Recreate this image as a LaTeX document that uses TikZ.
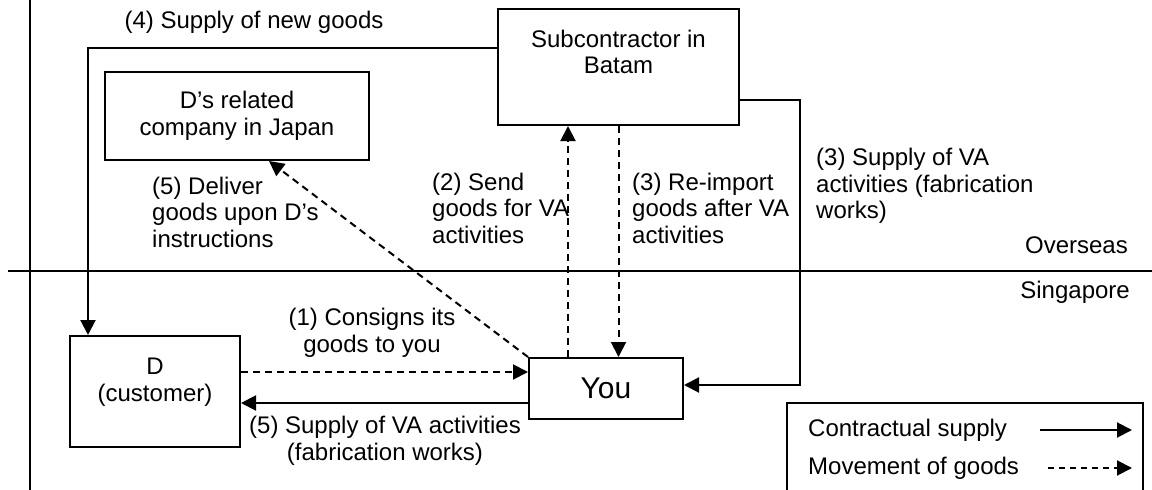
\documentclass[tikz,border=0pt]{standalone}
\usepackage{fontspec}
\setmainfont{Liberation Sans}
\usetikzlibrary{arrows.meta}
\tikzset{
  txt/.style={font=\fontsize{24pt}{26.5pt}\selectfont, inner sep=0pt},
  boxn/.style={draw, line width=2pt, inner sep=0pt},
  supply/.style={line width=2pt, -{Triangle[length=15pt,width=15pt]}},
  goods/.style={line width=2pt, dash pattern=on 7pt off 5pt, -{Triangle[length=15pt,width=15pt]}},
  frame/.style={line width=2pt}
}
\begin{document}
\begin{tikzpicture}[x=1pt,y=-1pt]
\useasboundingbox (0,0) rectangle (1152,490);
\clip (0,0) rectangle (1152,490);
% frame lines
\coordinate (vt) at (30,0);
\coordinate (vb) at (30,490);
\coordinate (hl) at (8,271);
\coordinate (hr) at (1152,271);
\draw[frame] (vt) -- (vb);
\draw[frame] (hl) -- (hr);
% boxes
\node[boxn, minimum width=264pt, minimum height=88pt] (japan) at (237,116) {};
\node[txt, align=center] (japantxt) at (237,116) {D’s related\\company in Japan};
\node[boxn, minimum width=241pt, minimum height=116pt] (sub) at (618.5,67) {};
\node[txt, align=center] (subtxt) at (618.5,52) {Subcontractor in\\Batam};
\node[boxn, minimum width=170pt, minimum height=111pt] (d) at (155,391.5) {};
\node[txt, align=center] (dtxt) at (155,382) {D\\(customer)};
\node[boxn, minimum width=154pt, minimum height=61pt] (you) at (606,388.5) {};
\node[txt, font=\fontsize{30pt}{32pt}\selectfont] (youtxt) at (606,388.5) {You};
% connectors
\coordinate (c3) at (800,100);
\draw[supply] ([yshift=19pt]sub.west) -| ([xshift=-67pt]d.north);
\draw[supply] ([yshift=-33pt]sub.east) -- (c3) |- ([yshift=3.5pt]you.east);
\draw[goods] ([xshift=-38pt]you.north) -- ([xshift=-38pt]you.north |- sub.south);
\draw[goods] (sub.south) -- (sub.south |- you.north);
\draw[goods] ([yshift=19.5pt]d.east) -- ([yshift=19.5pt]d.east -| you.west);
\draw[supply] ([yshift=-11.5pt]d.east -| you.west) -- ([yshift=-11.5pt]d.east);
\draw[goods] (you.north west) -- ([xshift=165pt]japan.south west);
% labels
\node[txt] (l4) at (254,22) {(4) Supply of new goods};
\node[txt, align=left, anchor=west] (l5d) at (152,212) {(5) Deliver\\goods upon D’s\\instructions};
\node[txt, align=left, anchor=west] (l2) at (432,208) {(2) Send\\goods for VA\\activities};
\node[txt, align=left, anchor=west] (l3r) at (632,208) {(3) Re-import\\goods after VA\\activities};
\node[txt, align=left, anchor=west] (l3s) at (816,186) {(3) Supply of VA\\activities (fabrication\\works)};
\node[txt, anchor=east] (over) at (1128,245) {Overseas};
\node[txt, anchor=east] (sing) at (1130,292) {Singapore};
\node[txt, align=center] (l1) at (372,333) {(1) Consigns its\\goods to you};
\node[txt, align=center] (l5s) at (385,441) {(5) Supply of VA activities\\(fabrication works)};
% legend
\node[boxn, minimum width=356pt, minimum height=117pt] (legend) at (965,461.5) {};
\node[txt, anchor=west] (lg1) at (808,430) {Contractual supply};
\node[txt, anchor=west] (lg2) at (808,468) {Movement of goods};
\coordinate (a1s) at (1040,430);
\coordinate (a1e) at (1132,430);
\coordinate (a2s) at (1048,468);
\coordinate (a2e) at (1132,468);
\draw[supply] (a1s) -- (a1e);
\draw[goods, dash pattern=on 6pt off 5pt] (a2s) -- (a2e);
\end{tikzpicture}
\end{document}
